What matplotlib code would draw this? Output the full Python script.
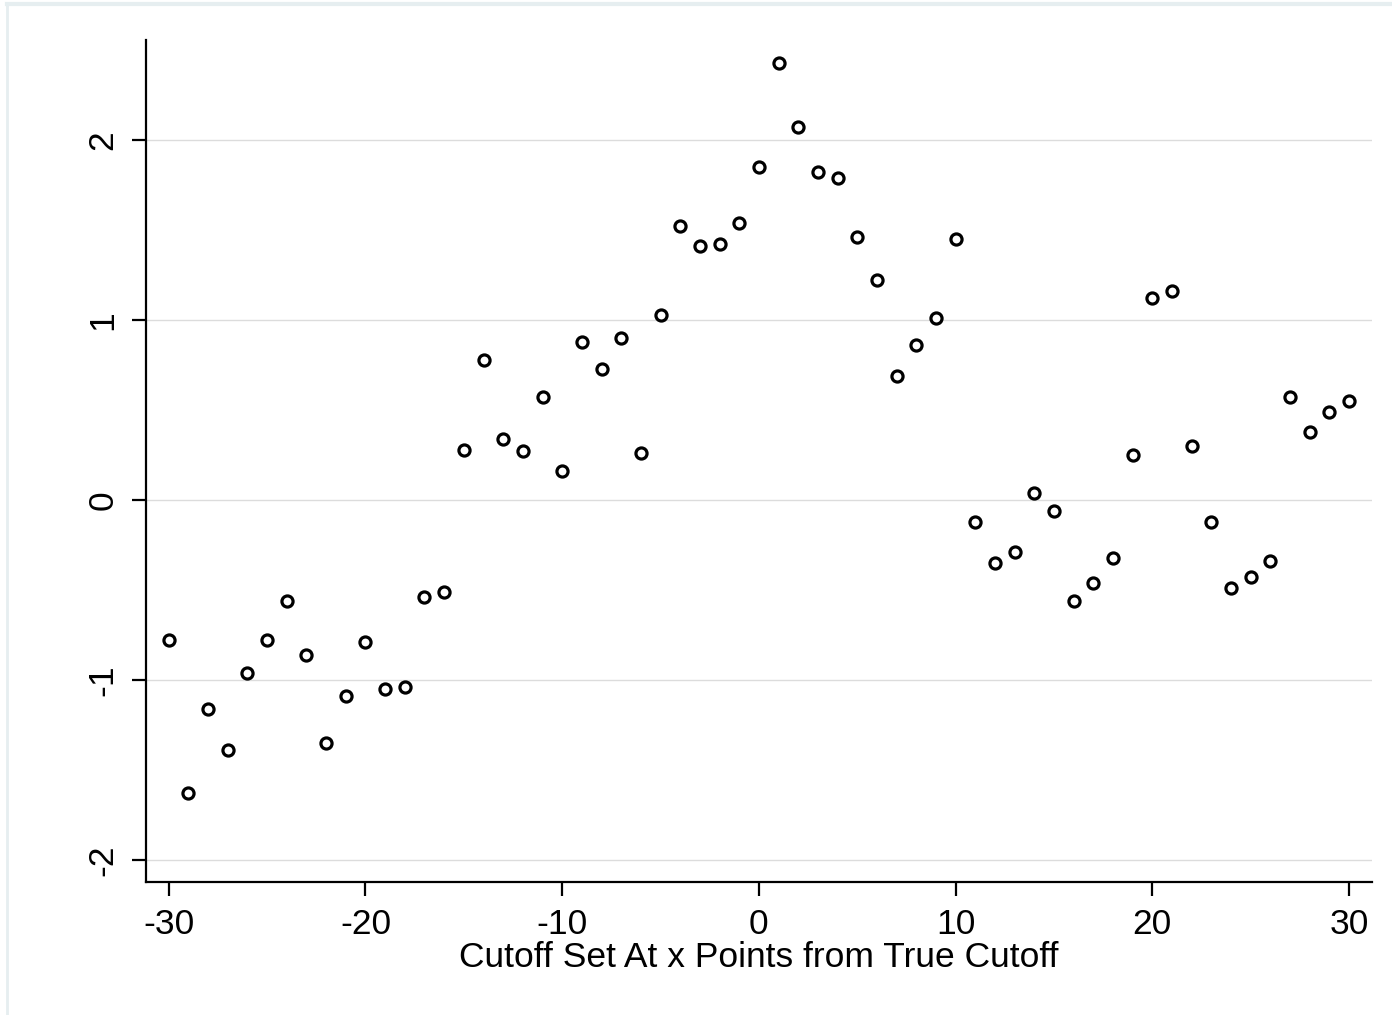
import matplotlib
matplotlib.use('Agg')
import matplotlib.pyplot as plt
from matplotlib.lines import Line2D

# offset of the cutoff from the true cutoff, and the estimate at each
offsets = list(range(-30, 31))
estimates = [
    -0.78, -1.63, -1.16, -1.39, -0.96, -0.78, -0.56, -0.86, -1.35, -1.09,
    -0.79, -1.05, -1.04, -0.54, -0.51, 0.28, 0.78, 0.34, 0.27, 0.57,
    0.16, 0.88, 0.73, 0.90, 0.26, 1.03, 1.52, 1.41, 1.42, 1.54,
    1.85, 2.43, 2.07, 1.82, 1.79, 1.46, 1.22, 0.69, 0.86, 1.01,
    1.45, -0.12, -0.35, -0.29, 0.04, -0.06, -0.56, -0.46, -0.32, 0.25,
    1.12, 1.16, 0.30, -0.12, -0.49, -0.43, -0.34, 0.57, 0.38, 0.49,
    0.55,
]
x_ticks = [-30, -20, -10, 0, 10, 20, 30]
y_ticks = [-2, -1, 0, 1, 2]

plt.rcParams['font.family'] = ['Liberation Sans', 'DejaVu Sans']
plt.rcParams['axes.unicode_minus'] = False

fig = plt.figure(figsize=(13.92, 10.15), dpi=100)
ax = fig.add_axes([0.1047, 0.1310, 0.8810, 0.8296])

ax.plot(offsets, estimates, linestyle='none', marker='o', markersize=8,
        markerfacecolor='white', markeredgecolor='black', markeredgewidth=2.3,
        zorder=3)

ax.set_xlim(-31.17, 31.17)
ax.set_ylim(-2.122, 2.556)
ax.set_xticks(x_ticks)
ax.set_yticks(y_ticks)
ax.set_yticklabels([str(v) for v in y_ticks], rotation=90, va='center')
ax.grid(axis='y', color='#dcdcdc', linewidth=1.0)
ax.set_axisbelow(True)

for side in ['top', 'right']:
    ax.spines[side].set_visible(False)
for side in ['left', 'bottom']:
    ax.spines[side].set_linewidth(1.6)

ax.tick_params(axis='both', length=10, width=1.6, labelsize=25.5, pad=9)
ax.set_xlabel("Cutoff Set At x Points from True Cutoff", fontsize=25.5, labelpad=0)

# thin frame along the top and left edge of the picture
fig.add_artist(Line2D([0.0052, 0.0052], [0, 0.996], transform=fig.transFigure,
                      color='#e6eef0', linewidth=2))
fig.add_artist(Line2D([0.0052, 1], [0.996, 0.996], transform=fig.transFigure,
                      color='#e6eef0', linewidth=3))

fig.savefig('out.png', dpi=100)
plt.close(fig)
